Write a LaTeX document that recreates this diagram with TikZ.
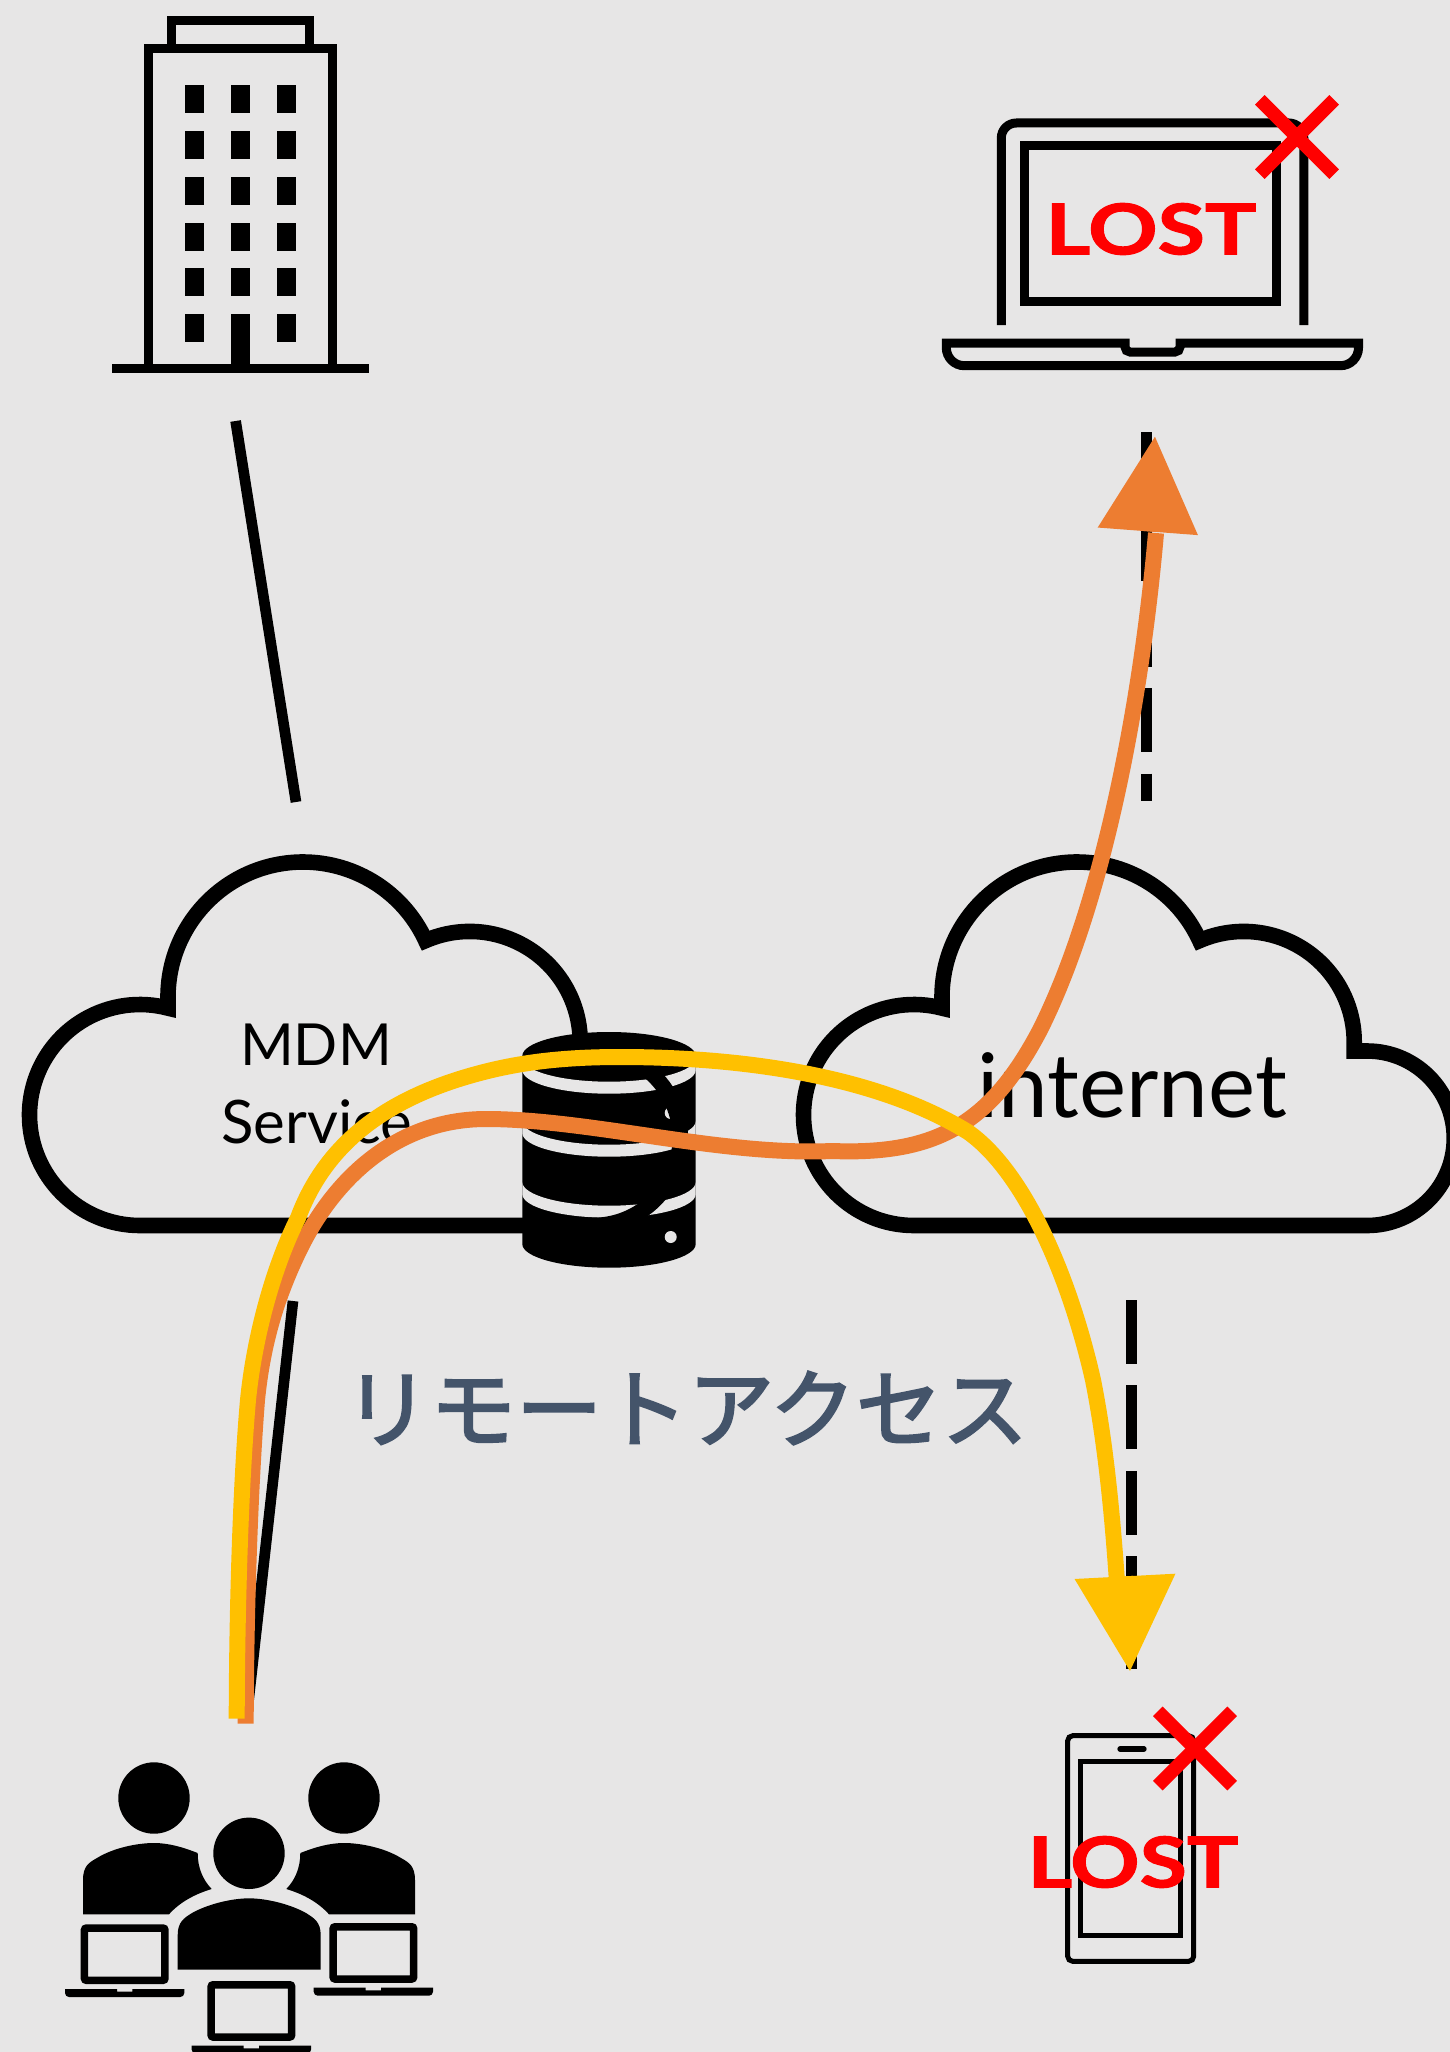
\documentclass[tikz,border=0pt]{standalone}
\usepackage{fontspec}
\usetikzlibrary{arrows.meta}
\newfontfamily\gillfont{Lato}
\newfontfamily\lostfont[BoldFeatures={FakeBold=1.4}]{Lato}
\newfontfamily\cjkfont[FakeBold=2.5]{Noto Sans CJK JP}
\definecolor{paper}{HTML}{E7E6E6}
\definecolor{slate}{HTML}{44546A}
\definecolor{arrowor}{HTML}{ED7D31}
\definecolor{arrowye}{HTML}{FFC000}
\newcommand{\losttext}{\scalebox{1.23}[1]{LOST}}
\tikzset{
  x=1pt, y=1pt,
  icon/.style={draw=black, line width=9pt},
  link/.style={draw=black, line width=10.7pt},
  dashlink/.style={link, dash pattern=on 64pt off 21.4pt},
  remote/.style={line width=16pt},
  redcross/.style={draw=red, line width=13.5pt},
  cloudtext/.style={font=\gillfont\fontsize{58}{58}\selectfont, inner sep=0pt},
  losslabel/.style={font=\lostfont\bfseries\fontsize{70}{70}\selectfont, text=red, inner sep=0pt},
  pics/cloudicon/.style={code={
    \draw[line width=15.6pt] (140,-1225.5) arc[start angle=270, end angle=75.3, radius=110.5]
      -- (168,-997) arc[start angle=180, end angle=24.7, radius=135]
      arc[start angle=113.5, end angle=0, radius=110.5] -- (580.2,-1051) -- (593,-1051)
      arc[start angle=90, end angle=-90, radius=87.25] -- cycle;
  }},
  pics/smalllaptop/.style={code={
    \draw[line width=7.5pt, rounded corners=2pt] (3.75,-3.75) rectangle (84.25,-56);
    \fill (-15.7,-64.7) -- (36.3,-64.7) -- (36.3,-67.4) -- (51.6,-67.4) -- (51.6,-64.7) -- (103.6,-64.7)
      [rounded corners=4pt] -- (103.6,-72.7) -- (-15.7,-72.7) [sharp corners] -- cycle;
  }},
  pics/sideperson/.style={code={
    \fill (83,-1914.3) -- (83,-1880) .. controls (83,-1866) and (89,-1862.5) .. (97,-1858)
      .. controls (113,-1848) and (137,-1843) .. (154,-1843)
      .. controls (170,-1843) and (185,-1848) .. (197.7,-1853)
      .. controls (197.7,-1868) and (203,-1880) .. (211.7,-1889)
      .. controls (195,-1894) and (180,-1902) .. (169,-1914.3) -- cycle;
    \fill (154,-1798) circle[radius=35.7];
  }},
}

\begin{document}
\begin{tikzpicture}
\fill[paper] (0,0) rectangle (1450,-2052);
\useasboundingbox (0,0) rectangle (1450,-2052);

% connector ends
\coordinate (officeend) at (235.6,-421);
\coordinate (mdmtop) at (296,-802);
\coordinate (mdmbottom) at (293,-1301);
\coordinate (usersend) at (248.6,-1700);
\coordinate (laptopend) at (1146.7,-432);
\coordinate (nettop) at (1146.7,-801);
\coordinate (netbottom) at (1131.3,-1300);
\coordinate (phoneend) at (1131.3,-1669);
\draw[link] (officeend) -- (mdmtop);
\draw[link] (mdmbottom) -- (usersend);
\draw[dashlink] (laptopend) -- (nettop);
\draw[dashlink] (netbottom) -- (phoneend);

% office
\draw[icon] (148.8,-368) -- (148.8,-49) -- (332.2,-49) -- (332.2,-368);
\draw[icon] (171.5,-49) -- (171.5,-21) -- (309.2,-21) -- (309.2,-49);
\draw[icon] (112,-368.5) -- (369,-368.5);
\foreach \wx in {185,231,277}
  \foreach \wy in {85,131,177,223,268,314}
    \fill (\wx,-\wy) rectangle ++(19,-28);
\fill (231,-314) rectangle (250,-364);

% database
\fill (522.3,-1056) arc[start angle=180, end angle=0, x radius=86.7, y radius=24]
  -- (695.7,-1244) arc[start angle=0, end angle=-180, x radius=86.7, y radius=23.7] -- cycle;
\foreach \yc in {1058,1121,1182}
  \fill[paper] (522.3,-\yc) arc[start angle=180, end angle=360, x radius=86.7, y radius=23.7]
    -- (695.7,-\yc-12) arc[start angle=0, end angle=-180, x radius=86.7, y radius=23.7] -- cycle;
\foreach \yc in {1113,1175,1237}
  \fill[paper] (670.7,-\yc) circle[radius=6];

% clouds
\pic (mdmcloud) at (0,0) {cloudicon};
\pic (netcloud) at (774,0) {cloudicon};
\node[cloudtext] (mdmlabel) at (316,-1045) {MDM};
\node[cloudtext, font=\gillfont\fontsize{60}{60}\selectfont, anchor=base] (servicelabel) at (317,-1143) {Service};
\node[cloudtext, font=\gillfont\fontsize{89}{89}\selectfont, anchor=base] (netlabel) at (1132,-1117) {internet};

% lost laptop
\draw[icon, rounded corners=15pt] (1001.3,-325) -- (1001.3,-123) -- (1303.8,-123) -- (1303.8,-325);
\draw[icon] (1024,-145.8) rectangle (1276.8,-301.8);
\draw[icon] (946.3,-343) -- (1125,-343) [rounded corners=5pt] -- (1125,-352) -- (1180,-352)
  [sharp corners] -- (1180,-343) -- (1358.5,-343)
  [rounded corners=18pt] -- (1358.5,-365.7) -- (946.3,-365.7) [sharp corners] -- cycle;
\node[losslabel] (lostlaptop) at (1151,-229) {\losttext};
\draw[redcross] (1259.8,-99.8) -- (1334.2,-174.2);
\draw[redcross] (1259.8,-174.2) -- (1334.2,-99.8);

% lost phone
\draw[line width=5pt, rounded corners=5pt] (1067.7,-1735.7) rectangle (1193.7,-1961.3);
\draw[line width=5pt] (1080.7,-1761.7) rectangle (1180.7,-1935.3);
\draw[line width=5.3pt, line cap=round] (1120,-1749) -- (1144,-1749);
\node[losslabel] (lostphone) at (1133,-1862) {\losttext};
\draw[redcross] (1157.8,-1711.3) -- (1232.2,-1785.7);
\draw[redcross] (1157.8,-1785.7) -- (1232.2,-1711.3);

% users
\pic (userleft) at (0,0) {sideperson};
\pic[xscale=-1] (userright) at (498,0) {sideperson};
\fill (249,-1853.3) circle[radius=35.7];
\fill (177.7,-1969.7) -- (177.7,-1935) .. controls (177.7,-1922) and (184,-1918) .. (192,-1913)
  .. controls (208,-1904) and (232,-1898.3) .. (249,-1898.3)
  .. controls (266,-1898.3) and (290,-1904) .. (306,-1913)
  .. controls (314,-1918) and (320.7,-1922) .. (320.7,-1935) -- (320.7,-1969.7) -- cycle;
\pic (laptopa) at (80.7,-1924.3) {smalllaptop};
\pic (laptopb) at (329.4,-1923) {smalllaptop};
\pic (laptopc) at (207.4,-1981) {smalllaptop};

\node[inner sep=0pt, text=slate, font=\cjkfont\fontsize{86}{86}\selectfont] (remotelabel) at (686,-1408) {リモートアクセス};

% remote access arrows
\coordinate (orstart) at (245.7,-1723.7);
\coordinate (orbase) at (1156,-533);
\coordinate (ormid) at (1147.8,-531.3);
\coordinate (ortip) at (1155,-436);
\draw[remote, arrowor, -{Triangle[length=95.6pt, width=96pt]}] (orstart)
  .. controls (246,-1610) and (250,-1490) .. (257,-1400)
  .. controls (263,-1340) and (278,-1295) .. (298,-1253)
  .. controls (335,-1175) and (400,-1119) .. (486,-1119)
  .. controls (590,-1119) and (720,-1156) .. (832,-1151)
  .. controls (935,-1155) and (990,-1125) .. (1040,-1030)
  .. controls (1105,-900) and (1142,-695) .. (orbase)
  (ormid) -- (ortip);
\coordinate (yestart) at (236.7,-1718.7);
\coordinate (yebase) at (1116.7,-1578);
\coordinate (yemid) at (1125,-1576.3);
\coordinate (yetip) at (1130,-1671.7);
\draw[remote, arrowye, -{Triangle[length=95.5pt, width=96.5pt]}] (yestart)
  .. controls (237,-1600) and (241,-1480) .. (248,-1400)
  .. controls (254,-1340) and (272,-1270) .. (298,-1218)
  .. controls (325,-1145) and (385,-1098) .. (480,-1073)
  .. controls (525,-1061) and (570,-1057) .. (620,-1057)
  .. controls (740,-1057) and (875,-1075) .. (968,-1132)
  .. controls (1022,-1170) and (1068,-1270) .. (1093,-1380)
  .. controls (1105,-1440) and (1112,-1510) .. (yebase)
  (yemid) -- (yetip);
\end{tikzpicture}
\end{document}
